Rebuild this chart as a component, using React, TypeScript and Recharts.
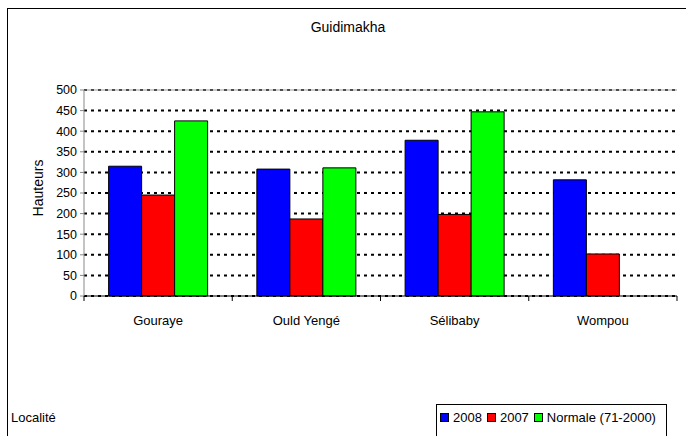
import {
  BarChart,
  Bar,
  XAxis,
  YAxis,
  CartesianGrid,
  ReferenceLine,
} from "recharts";

const localites = ["Gouraye", "Ould Yengé", "Sélibaby", "Wompou"];
const h2008 = [315, 308, 378, 282];
const h2007 = [245, 187, 198, 102];
const normale = [425, 311, 447, null];
const yTicks = [0, 50, 100, 150, 200, 250, 300, 350, 400, 450, 500];

const series = [
  { key: "h2008", name: "2008", color: "#0000ff" },
  { key: "h2007", name: "2007", color: "#ff0000" },
  { key: "normale", name: "Normale (71-2000)", color: "#00ff00" },
];

const data = localites.map((loc, i) => ({
  loc,
  h2008: h2008[i],
  h2007: h2007[i],
  normale: normale[i],
}));

const W = 686;
const H = 436;
const M = { top: 90, right: 9, bottom: 110, left: 0 };
const Y_W = 84;
const BAND = (W - M.right - M.left - Y_W) / localites.length;
const FONT = "'Liberation Sans', Arial, sans-serif";

function CatTick(props: any) {
  const { x, y, payload, index } = props;
  return (
    <g>
      {index === 0 && (
        <line x1={x - BAND / 2} y1={y} x2={x - BAND / 2} y2={y + 5} stroke="#000" />
      )}
      <line x1={x + BAND / 2} y1={y} x2={x + BAND / 2} y2={y + 5} stroke="#000" />
      <text x={x} y={y + 29} textAnchor="middle" fontSize={13} fill="#000" fontFamily={FONT}>
        {payload.value}
      </text>
    </g>
  );
}

export default function App() {
  return (
    <div
      style={{
        position: "absolute",
        left: 0,
        top: 0,
        width: W,
        height: H,
        overflow: "hidden",
        background: "#fff",
        fontFamily: FONT,
      }}
    >
      <div
        style={{
          position: "absolute",
          left: 7,
          top: 8,
          width: W + 10,
          height: H + 10,
          border: "1px solid #000",
        }}
      />
      <div
        style={{
          position: "absolute",
          left: 0,
          top: 19,
          width: W + 10,
          textAlign: "center",
          fontSize: 14,
          color: "#000",
        }}
      >
        Guidimakha
      </div>
      <div style={{ position: "absolute", left: 0, top: 0 }}>
        <BarChart
          width={W}
          height={H}
          data={data}
          margin={M}
          barCategoryGap="16.6%"
          barGap={0}
        >
          <CartesianGrid
            vertical={false}
            stroke="#000"
            strokeWidth={2}
            strokeDasharray="3 4"
          />
          <ReferenceLine y={500} stroke="#999" />
          <XAxis
            dataKey="loc"
            tickSize={0}
            tickMargin={0}
            tickLine={false}
            stroke="#000"
            height={30}
            interval={0}
            tick={<CatTick />}
          />
          <YAxis
            domain={[0, 500]}
            ticks={yTicks}
            width={Y_W}
            tickSize={4}
            tickMargin={3}
            stroke="#888"
            tick={{ fontSize: 12.5, fill: "#000", fontFamily: FONT }}
            interval={0}
            label={{
              content: () => (
                <text
                  x={38}
                  y={188}
                  transform="rotate(-90 38 188)"
                  textAnchor="middle"
                  dominantBaseline="central"
                  fontSize={14}
                  fill="#000"
                  fontFamily={FONT}
                >
                  Hauteurs
                </text>
              ),
            }}
          />
          <YAxis
            yAxisId="frame"
            orientation="right"
            width={0}
            tick={false}
            tickLine={false}
            stroke="#999"
          />
          {series.map((s) => (
            <Bar
              key={s.key}
              dataKey={s.key}
              name={s.name}
              fill={s.color}
              stroke="#000"
              strokeWidth={1}
              isAnimationActive={false}
            />
          ))}
        </BarChart>
      </div>
      <div
        style={{
          position: "absolute",
          left: 11,
          top: 410,
          fontSize: 13,
          color: "#000",
        }}
      >
        Localité
      </div>
      <div
        style={{
          position: "absolute",
          left: 436,
          top: 404,
          width: 231,
          height: 40,
          border: "1px solid #000",
          boxSizing: "border-box",
          display: "flex",
          alignItems: "flex-start",
          paddingLeft: 3,
          paddingTop: 5,
          fontSize: 13,
          color: "#000",
        }}
      >
        {series.map((s) => (
          <span key={s.key} style={{ display: "flex", alignItems: "center", marginRight: 5 }}>
            <span
              style={{
                display: "inline-block",
                width: 7,
                height: 7,
                background: s.color,
                border: "1px solid #000",
                marginRight: 4,
              }}
            />
            {s.name}
          </span>
        ))}
      </div>
    </div>
  );
}
